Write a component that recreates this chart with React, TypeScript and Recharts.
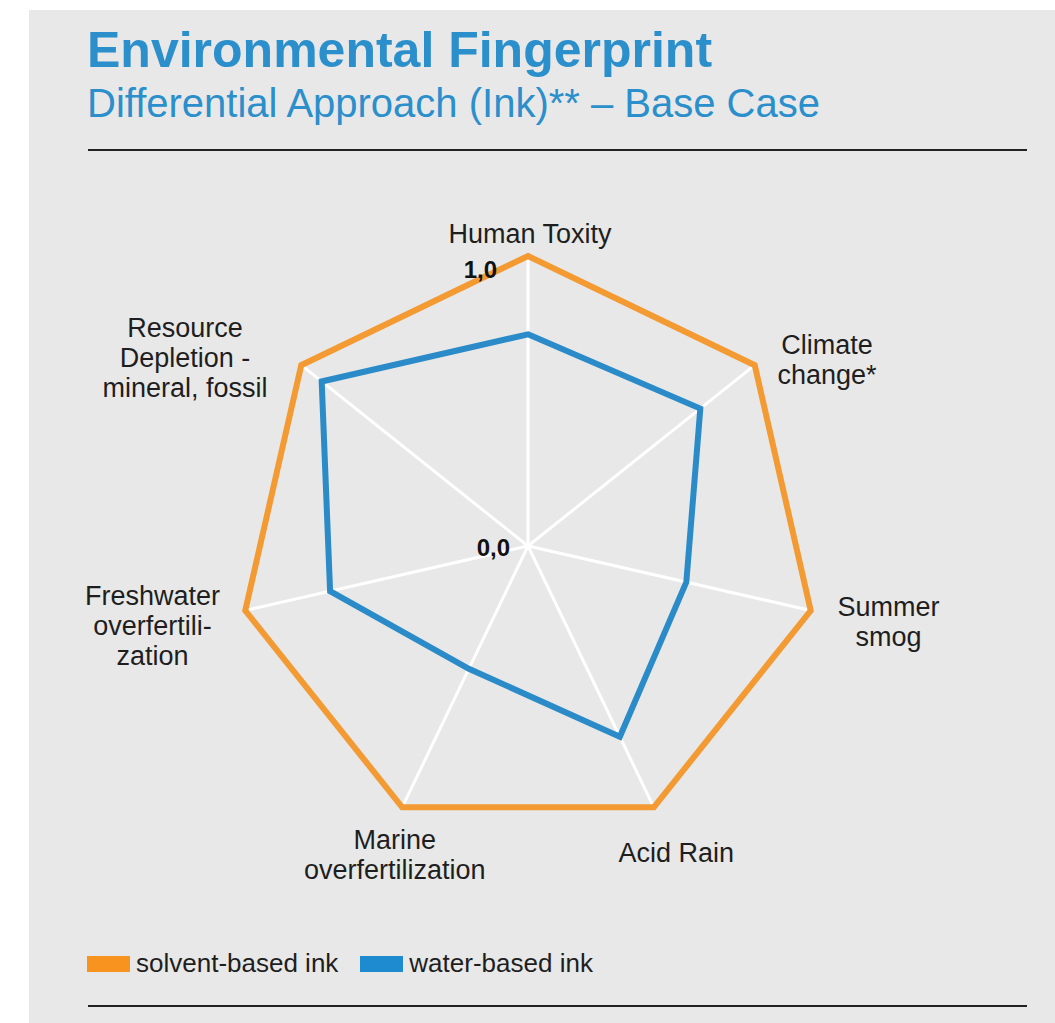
import { RadarChart, Radar, PolarGrid, PolarAngleAxis, PolarRadiusAxis } from "recharts";

const categories = [
    "Human Toxity",
    "Climate change*",
    "Summer smog",
    "Acid Rain",
    "Marine overfertilization",
    "Freshwater overfertilization",
    "Resource Depletion - mineral, fossil",
];

// how each axis label is broken into lines in the original
const labelLines = [
    ["Human Toxity"],
    ["Climate", "change*"],
    ["Summer", "smog"],
    ["Acid Rain"],
    ["Marine", "overfertilization"],
    ["Freshwater", "overfertili-", "zation"],
    ["Resource", "Depletion -", "mineral, fossil"],
];

const solventBased = [1.0, 1.0, 1.0, 1.0, 1.0, 1.0, 1.0];
const waterBased = [0.73, 0.76, 0.56, 0.73, 0.47, 0.7, 0.91];
const radiusTicks = [0, 1];

const seriesNames = ["solvent-based ink", "water-based ink"];

const ORANGE = "#F39A33";
const BLUE = "#2A8BC8";
const FONT = "'Liberation Sans', Arial, Helvetica, sans-serif";

const data = categories.map((name, i) => ({
    axis: name,
    solvent: solventBased[i],
    water: waterBased[i],
}));

// label offsets from the tick anchor (dx, dy of first baseline)
const labelOffsets = [
    [2, -5],
    [66, -6],
    [70, 4],
    [19, 48],
    [-4, 35],
    [-85, -7],
    [-110, -23],
];

function AngleTick(props: any) {
    const { x, y, index } = props;
    const lines = labelLines[index] || [];
    const [dx, dy] = labelOffsets[index] || [0, 0];
    return (
        <text x={x + dx} y={y + dy} textAnchor="middle" fontFamily={FONT} fontSize={27} fill="#1e1e1e">
            {lines.map((l, i) => (
                <tspan key={i} x={x + dx} dy={i === 0 ? 0 : 30}>{l}</tspan>
            ))}
        </text>
    );
}

function RadiusTick(props: any) {
    const { x, y, payload } = props;
    const v = Number(payload.value);
    const label = v.toFixed(1).replace(".", ",");
    const dx = v === 0 ? -18 : -31;
    const dy = v === 0 ? 10 : 22;
    return (
        <text x={x + dx} y={y + dy} textAnchor="end" fontFamily={FONT} fontSize={24} fontWeight="bold" fill="#111">
            {label}
        </text>
    );
}

export default function App() {
    return (
        <div style={{ position: "absolute", left: 0, top: 0, width: 1055, height: 1023, background: "#fff", fontFamily: FONT }}>
            <div style={{ position: "absolute", left: 29, top: 10, width: 1026, height: 1013, background: "#e8e8e8" }} />
            <div style={{ position: "absolute", left: 87, top: 21, fontSize: 50, fontWeight: "bold", color: "#2b8fcc", lineHeight: "58px", whiteSpace: "nowrap" }}>
                Environmental Fingerprint
            </div>
            <div style={{ position: "absolute", left: 87, top: 80, fontSize: 40, color: "#2b8fcc", lineHeight: "46px", whiteSpace: "nowrap" }}>
                Differential Approach (Ink)** – Base Case
            </div>
            <div style={{ position: "absolute", left: 88, top: 149, width: 939, height: 2, background: "#222" }} />
            <div style={{ position: "absolute", left: 0, top: 0 }}>
                <RadarChart width={1055} height={1023} data={data} cx={528} cy={546} outerRadius={290} margin={{ top: 0, right: 0, bottom: 0, left: 0 }}>
                    <PolarGrid gridType="polygon" polarRadius={[0]} stroke="#ffffff" strokeWidth={3} strokeOpacity={1} />
                    <PolarAngleAxis dataKey="axis" tick={<AngleTick />} tickLine={false} axisLine={false} />
                    <PolarRadiusAxis angle={90} domain={[0, 1]} ticks={radiusTicks} tick={<RadiusTick />} axisLine={false} tickLine={false} />
                    <Radar name={seriesNames[0]} dataKey="solvent" stroke={ORANGE} strokeWidth={6} fill="none" fillOpacity={0} dot={false} isAnimationActive={false} strokeLinejoin="miter" />
                    <Radar name={seriesNames[1]} dataKey="water" stroke={BLUE} strokeWidth={6} fill="none" fillOpacity={0} dot={false} isAnimationActive={false} strokeLinejoin="miter" />
                </RadarChart>
            </div>
            <div style={{ position: "absolute", left: 87, top: 948, display: "flex", alignItems: "center", fontSize: 26, color: "#1e1e1e", whiteSpace: "nowrap" }}>
                <span style={{ display: "inline-block", width: 43, height: 16, background: "#F7931E", marginRight: 6 }} />
                <span style={{ marginRight: 22 }}>{seriesNames[0]}</span>
                <span style={{ display: "inline-block", width: 43, height: 16, background: "#1E8AD0", marginRight: 6 }} />
                <span>{seriesNames[1]}</span>
            </div>
            <div style={{ position: "absolute", left: 88, top: 1005, width: 939, height: 2, background: "#222" }} />
        </div>
    );
}
